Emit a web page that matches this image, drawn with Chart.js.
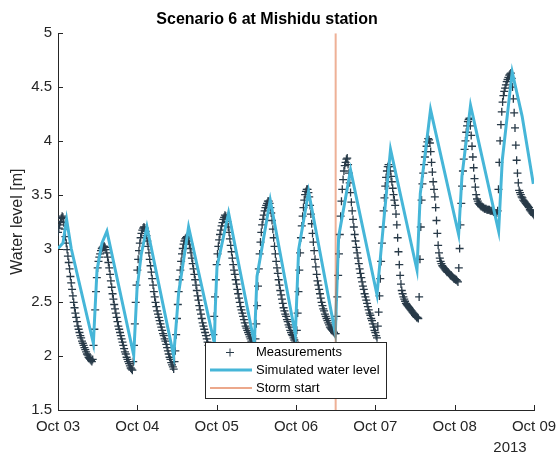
<html lang="en">

<head>
    <meta charset="UTF-8">
    <title>Scenario 6 at Mishidu station</title>
    <script src="https://cdn.jsdelivr.net/npm/chart.js"></script>
    <style>
        body { margin: 0; background: #fff; }
    </style>
</head>

<body>
    <canvas id="myChart" width="557" height="455"></canvas>

    <script>
        // x axis is hours after Oct 03 00:00 (2013)
        const dayLabels = ['Oct 03', 'Oct 04', 'Oct 05', 'Oct 06', 'Oct 07', 'Oct 08', 'Oct 09'];
        const yearLabel = '2013';
        const yTicks = [1.5, 2, 2.5, 3, 3.5, 4, 4.5, 5];

        // measurements, one value every 15 minutes from Oct 03 00:00 to Oct 09 00:00
        // one row = 6 hours
        const measStep = 0.25;
        const measured = [
            3.15, 3.19, 3.22, 3.25, 3.28, 3.30, 3.29, 3.24, 3.18, 3.11, 3.05, 2.99, 2.93, 2.87, 2.81, 2.74, 2.68, 2.62, 2.56, 2.50, 2.45, 2.40, 2.36, 2.32,
            2.28, 2.25, 2.22, 2.19, 2.17, 2.14, 2.12, 2.10, 2.08, 2.06, 2.04, 2.02, 2.01, 1.99, 1.98, 1.97, 1.96, 1.95, 1.97, 2.10, 2.25, 2.43, 2.60, 2.73,
            2.82, 2.88, 2.92, 2.95, 2.98, 3.00, 3.01, 3.02, 3.02, 3.01, 2.99, 2.96, 2.92, 2.87, 2.82, 2.76, 2.70, 2.64, 2.58, 2.53, 2.48, 2.44, 2.40, 2.36,
            2.32, 2.28, 2.25, 2.22, 2.19, 2.16, 2.13, 2.10, 2.07, 2.04, 2.02, 1.99, 1.97, 1.95, 1.93, 1.91, 1.89, 1.88, 1.87, 1.95, 2.10, 2.30, 2.50, 2.66,
            // Oct 04
            2.80, 2.90, 2.98, 3.05, 3.10, 3.14, 3.17, 3.19, 3.20, 3.19, 3.16, 3.12, 3.07, 3.02, 2.96, 2.90, 2.84, 2.78, 2.72, 2.66, 2.60, 2.55, 2.50, 2.46,
            2.42, 2.39, 2.36, 2.33, 2.30, 2.27, 2.24, 2.21, 2.19, 2.16, 2.14, 2.11, 2.08, 2.05, 2.02, 1.99, 1.97, 1.94, 1.92, 1.90, 1.88, 1.95, 2.05, 2.20,
            2.35, 2.48, 2.60, 2.71, 2.80, 2.88, 2.95, 3.00, 3.04, 3.07, 3.09, 3.10, 3.11, 3.09, 3.07, 3.04, 3.00, 2.96, 2.91, 2.86, 2.81, 2.76, 2.71, 2.66,
            2.61, 2.56, 2.52, 2.47, 2.43, 2.39, 2.35, 2.31, 2.28, 2.25, 2.22, 2.19, 2.16, 2.13, 2.10, 2.07, 2.05, 2.03, 2.01, 2.08, 2.20, 2.37, 2.55, 2.71,
            // Oct 05
            2.85, 2.95, 3.02, 3.08, 3.13, 3.17, 3.21, 3.24, 3.27, 3.29, 3.31, 3.30, 3.28, 3.25, 3.20, 3.15, 3.09, 3.03, 2.97, 2.91, 2.85, 2.80, 2.76, 2.71,
            2.67, 2.62, 2.58, 2.54, 2.50, 2.46, 2.43, 2.40, 2.37, 2.34, 2.31, 2.28, 2.26, 2.24, 2.22, 2.20, 2.18, 2.16, 2.14, 2.12, 2.10, 2.08, 2.07, 2.16,
            2.30, 2.47, 2.65, 2.81, 2.95, 3.06, 3.15, 3.22, 3.27, 3.31, 3.35, 3.38, 3.40, 3.42, 3.44, 3.44, 3.42, 3.38, 3.33, 3.26, 3.18, 3.10, 3.02, 2.95,
            2.88, 2.82, 2.77, 2.71, 2.66, 2.61, 2.57, 2.53, 2.49, 2.45, 2.42, 2.39, 2.37, 2.34, 2.32, 2.29, 2.27, 2.24, 2.22, 2.20, 2.19, 2.17, 2.15, 2.13,
            // Oct 06
            2.12, 2.24, 2.40, 2.60, 2.80, 2.96, 3.10, 3.21, 3.30, 3.38, 3.45, 3.50, 3.53, 3.55, 3.55, 3.52, 3.48, 3.40, 3.32, 3.23, 3.14, 3.06, 2.98, 2.90,
            2.83, 2.76, 2.70, 2.66, 2.62, 2.58, 2.54, 2.50, 2.47, 2.44, 2.42, 2.39, 2.37, 2.35, 2.33, 2.31, 2.29, 2.27, 2.26, 2.25, 2.24, 2.23, 2.22, 2.21,
            2.21, 2.37, 2.55, 2.75, 2.95, 3.13, 3.30, 3.44, 3.55, 3.64, 3.72, 3.77, 3.80, 3.83, 3.84, 3.78, 3.70, 3.61, 3.52, 3.43, 3.35, 3.27, 3.20, 3.13,
            3.07, 3.01, 2.96, 2.91, 2.86, 2.81, 2.77, 2.73, 2.69, 2.65, 2.62, 2.58, 2.55, 2.52, 2.49, 2.46, 2.43, 2.40, 2.38, 2.35, 2.33, 2.30, 2.27, 2.24,
            // Oct 07
            2.22, 2.19, 2.17, 2.28, 2.41, 2.56, 2.72, 2.88, 3.05, 3.20, 3.35, 3.47, 3.58, 3.66, 3.72, 3.76, 3.78, 3.76, 3.72, 3.67, 3.62, 3.56, 3.50, 3.45,
            3.40, 3.32, 3.22, 3.10, 2.97, 2.85, 2.75, 2.67, 2.61, 2.58, 2.55, 2.53, 2.51, 2.49, 2.48, 2.47, 2.46, 2.45, 2.44, 2.43, 2.42, 2.41, 2.40, 2.39,
            2.38, 2.37, 2.36, 2.36, 2.35, 2.55, 2.90, 3.20, 3.45, 3.60, 3.70, 3.78, 3.85, 3.90, 3.95, 3.99, 4.02, 4.01, 3.98, 3.90, 3.80, 3.71, 3.62, 3.55,
            3.48, 3.38, 3.26, 3.14, 3.03, 2.96, 2.91, 2.88, 2.86, 2.84, 2.83, 2.82, 2.81, 2.80, 2.79, 2.78, 2.78, 2.77, 2.76, 2.75, 2.75, 2.74, 2.73, 2.72,
            // Oct 08
            2.72, 2.71, 2.71, 2.70, 2.69, 2.82, 3.00, 3.22, 3.42, 3.58, 3.72, 3.83, 3.92, 4.00, 4.08, 4.14, 4.18, 4.20, 4.21, 4.14, 4.05, 3.95, 3.85, 3.75,
            3.65, 3.57, 3.50, 3.46, 3.44, 3.42, 3.41, 3.40, 3.39, 3.39, 3.38, 3.38, 3.37, 3.37, 3.37, 3.36, 3.36, 3.36, 3.36, 3.35, 3.35, 3.35, 3.35, 3.34,
            3.34, 3.33, 3.33, 3.33, 3.35, 3.55, 3.80, 4.00, 4.15, 4.27, 4.36, 4.42, 4.46, 4.49, 4.52, 4.55, 4.57, 4.59, 4.61, 4.62, 4.63, 4.58, 4.50, 4.39,
            4.26, 4.12, 3.96, 3.82, 3.70, 3.61, 3.54, 3.52, 3.50, 3.48, 3.47, 3.45, 3.44, 3.43, 3.42, 3.41, 3.40, 3.39, 3.38, 3.36, 3.35, 3.34, 3.33, 3.32,
            // Oct 09 00:00
            3.31
        ];

        // simulated water level, corner points of the model curve
        const simHours = [0, 1.5, 2.6, 4.0, 10.7, 11.8, 13.3, 14.8, 22.9, 23.9, 25.2, 26.9,
            35.0, 36.5, 39.5, 47.3, 47.6, 48.1, 51.6, 59.4, 60.2, 64.2, 71.8, 72.8, 75.8,
            83.9, 84.9, 88.5, 96.5, 98.5, 100.6, 108.6, 109.6, 112.7, 121.2, 122.2, 124.8,
            133.3, 134.4, 137.4, 140.4, 143.8];
        const simLevel = [3.00, 3.05, 3.27, 3.00, 2.12, 2.80, 3.05, 3.16, 2.01, 2.62, 2.95, 3.20,
            2.00, 2.59, 3.20, 2.12, 2.46, 2.83, 3.33, 2.12, 2.74, 3.45, 2.20, 2.99, 3.53,
            2.21, 3.11, 3.73, 2.57, 3.24, 3.92, 2.80, 3.51, 4.29, 3.13, 3.67, 4.33,
            3.16, 3.82, 4.64, 4.23, 3.60];

        // storm start, Oct 06 12:00
        const stormHour = 84;

        const measColor = '#283a48';
        const simColor = 'rgb(70,182,216)';
        const stormColor = 'rgb(217,83,25)';
        const axisColor = '#262626';
        const font = '"Liberation Sans", Arial, Helvetica, sans-serif';

        const measPoints = measured.map((v, i) => ({ x: i * measStep, y: v }));
        const simPoints = simHours.map((h, i) => ({ x: h, y: simLevel[i] }));
        const stormPoints = [{ x: stormHour, y: yTicks[0] }, { x: stormHour, y: yTicks[yTicks.length - 1] }];

        // inner tick marks, legend box and year label like the matlab figure
        const extras = {
            id: 'extras',
            afterDatasetsDraw(chart) {
                const { ctx, chartArea: a, scales: { x, y } } = chart;
                ctx.save();
                ctx.strokeStyle = axisColor;
                ctx.lineWidth = 1;
                x.ticks.forEach(t => {
                    const px = Math.round(x.getPixelForValue(t.value)) + 0.5;
                    ctx.beginPath();
                    ctx.moveTo(px, a.bottom);
                    ctx.lineTo(px, a.bottom - 5);
                    ctx.stroke();
                });
                yTicks.forEach(v => {
                    const py = Math.round(y.getPixelForValue(v)) + 0.5;
                    ctx.beginPath();
                    ctx.moveTo(a.left, py);
                    ctx.lineTo(a.left + 5, py);
                    ctx.stroke();
                });

                // legend
                const bx = 205.5, by = 342.5, bw = 181, bh = 56;
                ctx.fillStyle = '#fff';
                ctx.fillRect(bx, by, bw, bh);
                ctx.strokeStyle = axisColor;
                ctx.strokeRect(bx, by, bw, bh);
                const rows = [352.5, 370, 388];
                ctx.font = '13px ' + font;
                ctx.fillStyle = '#000';
                ctx.textBaseline = 'middle';
                ctx.fillText('Measurements', 256, rows[0]);
                ctx.fillText('Simulated water level', 256, rows[1]);
                ctx.fillText('Storm start', 256, rows[2]);
                ctx.strokeStyle = measColor;
                ctx.beginPath();
                ctx.moveTo(226, rows[0]); ctx.lineTo(234, rows[0]);
                ctx.moveTo(230, rows[0] - 4); ctx.lineTo(230, rows[0] + 4);
                ctx.stroke();
                ctx.strokeStyle = simColor;
                ctx.lineWidth = 3;
                ctx.beginPath();
                ctx.moveTo(210, rows[1]); ctx.lineTo(252, rows[1]);
                ctx.stroke();
                ctx.strokeStyle = stormColor;
                ctx.lineWidth = 1.2;
                ctx.beginPath();
                ctx.moveTo(210, rows[2]); ctx.lineTo(252, rows[2]);
                ctx.stroke();

                // year under the last date
                ctx.font = '15px ' + font;
                ctx.fillStyle = axisColor;
                ctx.textAlign = 'center';
                ctx.fillText(yearLabel, 510, 448);
                ctx.restore();
            }
        };

        const ctx = document.getElementById('myChart').getContext('2d');
        const myChart = new Chart(ctx, {
            type: 'line',
            data: {
                datasets: [
                    {
                        label: 'Measurements',
                        data: measPoints,
                        showLine: false,
                        pointStyle: 'cross',
                        pointRadius: 4,
                        pointBorderWidth: 1.3,
                        pointBorderColor: measColor,
                        borderColor: measColor,
                        order: 3
                    },
                    {
                        label: 'Simulated water level',
                        data: simPoints,
                        borderColor: simColor,
                        borderWidth: 3,
                        pointRadius: 0,
                        tension: 0,
                        order: 2
                    },
                    {
                        label: 'Storm start',
                        data: stormPoints,
                        borderColor: 'rgba(217,83,25,0.45)',
                        borderWidth: 2,
                        pointRadius: 0,
                        order: 1
                    }
                ]
            },
            options: {
                responsive: false,
                animation: false,
                devicePixelRatio: 1,
                layout: { padding: { left: 0, right: 23, top: 0, bottom: 0 } },
                plugins: {
                    legend: { display: false },
                    tooltip: { enabled: false },
                    title: {
                        display: true,
                        text: 'Scenario 6 at Mishidu station',
                        color: '#000',
                        font: { family: font, size: 16, weight: 'bold' },
                        padding: { top: 10, bottom: 4 }
                    }
                },
                scales: {
                    x: {
                        type: 'linear',
                        min: 0,
                        max: 144,
                        afterFit: s => { s.height = 45; s.paddingLeft = 0; s.paddingRight = 0; },
                        grid: { display: false, drawTicks: false },
                        border: { display: true, color: axisColor, width: 1 },
                        ticks: {
                            stepSize: 24,
                            autoSkip: false,
                            maxRotation: 0,
                            padding: 8,
                            color: axisColor,
                            font: { family: font, size: 15 },
                            callback: v => dayLabels[Math.round(v / 24)]
                        }
                    },
                    y: {
                        min: 1.5,
                        max: 5,
                        afterFit: s => { s.width = 58; s.paddingTop = 0; s.paddingBottom = 0; },
                        grid: { display: false, drawTicks: false },
                        border: { display: true, color: axisColor, width: 1 },
                        ticks: {
                            stepSize: 0.5,
                            padding: 6,
                            color: axisColor,
                            font: { family: font, size: 15 },
                            callback: v => String(v)
                        },
                        title: {
                            display: true,
                            text: 'Water level [m]',
                            color: axisColor,
                            font: { family: font, size: 16 },
                            padding: { top: 8, bottom: 0 }
                        }
                    }
                }
            },
            plugins: [extras]
        });
    </script>
</body>

</html>
